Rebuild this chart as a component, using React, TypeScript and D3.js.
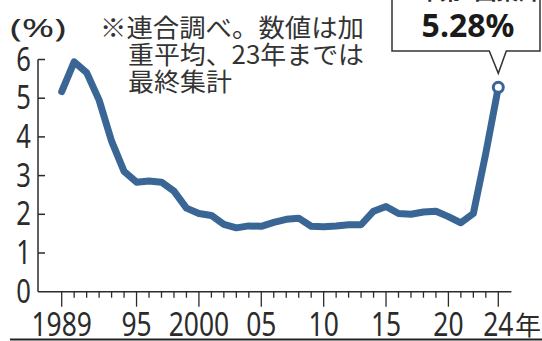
import React from "react";
import * as d3 from "d3";

const years = [
  1989, 1990, 1991, 1992, 1993, 1994, 1995, 1996, 1997, 1998, 1999, 2000,
  2001, 2002, 2003, 2004, 2005, 2006, 2007, 2008, 2009, 2010, 2011, 2012,
  2013, 2014, 2015, 2016, 2017, 2018, 2019, 2020, 2021, 2022, 2023, 2024,
];
const rates = [
  5.17, 5.94, 5.66, 4.95, 3.89, 3.11, 2.83, 2.86, 2.83, 2.6, 2.16, 2.02,
  1.97, 1.74, 1.65, 1.7, 1.69, 1.79, 1.87, 1.9, 1.69, 1.68, 1.7, 1.73,
  1.73, 2.08, 2.2, 2.02, 2.0, 2.06, 2.08, 1.94, 1.78, 2.02, 3.58, 5.28,
];
const majorYears = [1989, 1995, 2000, 2005, 2010, 2015, 2020, 2024];
const majorLabels = ["1989", "95", "2000", "05", "10", "15", "20", "24"];
const yTicks = [0, 1, 2, 3, 4, 5, 6];
const noteLines = ["※連合調べ。数値は加", "重平均、23年までは", "最終集計"];
const calloutTitle = "24年第1回集計";
const calloutValue = "5.28%";

const LINE = "#3a6696";
const INK = "#2b2b2b";
const NUM_FONT = "'Noto Sans', 'DejaVu Sans', sans-serif";
const CJK_FONT = "'Noto Sans CJK JP', 'Noto Sans', sans-serif";

export default function App() {
  const x = d3.scaleLinear().domain([1989, 2024]).range([61.7, 498.3]);
  const y = d3.scaleLinear().domain([0, 6]).range([291.7, 59.5]);
  const axisX = 38;
  const axisEnd = x(2025.05);
  const pts = years.map((yr, i) => [x(yr), y(rates[i])] as [number, number]);
  const line = d3.line().curve(d3.curveLinear)(pts) || "";
  const last = pts[pts.length - 1];

  const boxL = 392;
  const boxR = 540;
  const boxB = 51;
  const tipX = last[0];
  const tipY = last[1] - 14;

  return (
    <svg
      width={542}
      height={341}
      style={{ position: "absolute", left: 0, top: 0, background: "#fff" }}
    >
      <rect x={0} y={0} width={542} height={341} fill="#fff" />
      {/* (%) */}
      <text
        x={10}
        y={37}
        fontFamily={NUM_FONT}
        fontSize={26}
        fill={INK}
        textLength={56}
        lengthAdjust="spacingAndGlyphs"
      >
        (%)
      </text>

      {/* note */}
      {noteLines.map((t, i) => (
        <text
          key={i}
          x={i === 0 ? 100 : 128}
          y={37 + i * 27}
          fontFamily={CJK_FONT}
          fontSize={25}
          fill="#333"
          textLength={i === 0 ? 264 : i === 1 ? 236 : 104}
          lengthAdjust="spacingAndGlyphs"
        >
          {t}
        </text>
      ))}

      {/* y axis */}
      <line x1={axisX} x2={axisX} y1={y(6)} y2={y(0)} stroke={INK} strokeWidth={1.5} />
      {yTicks.map((v) => (
        <g key={v}>
          {v > 0 && (
            <line x1={axisX} x2={axisX + 7} y1={y(v)} y2={y(v)} stroke={INK} strokeWidth={1.5} />
          )}
          <text
            transform={`translate(31,${y(v) + 11}) scale(0.8,1)`}
            textAnchor="end"
            fontFamily={NUM_FONT}
            fontSize={32}
            fill={INK}
          >
            {v}
          </text>
        </g>
      ))}

      {/* x axis */}
      <line x1={axisX} x2={axisEnd} y1={y(0)} y2={y(0)} stroke={INK} strokeWidth={1.5} />
      {years.map((yr) => {
        const major = majorYears.includes(yr);
        return (
          <line
            key={yr}
            x1={x(yr)}
            x2={x(yr)}
            y1={y(0)}
            y2={y(0) + (major ? 15 : 6)}
            stroke={INK}
            strokeWidth={1.3}
          />
        );
      })}
      {majorYears.map((yr, i) => (
        <text
          key={yr}
          transform={`translate(${x(yr)},335.5) scale(0.8,1)`}
          textAnchor="middle"
          fontFamily={NUM_FONT}
          fontSize={33}
          fill={INK}
        >
          {majorLabels[i]}
        </text>
      ))}
      <text x={515} y={335} fontFamily={CJK_FONT} fontSize={26} fill={INK}>
        年
      </text>

      {/* line */}
      <path
        d={line}
        fill="none"
        stroke={LINE}
        strokeWidth={7}
        strokeLinejoin="round"
        strokeLinecap="round"
      />
      <circle cx={last[0]} cy={last[1]} r={5} fill="#fff" stroke={LINE} strokeWidth={3} />

      {/* callout */}
      <path
        d={`M${boxL},-5 L${boxL},${boxB} L${tipX - 9},${boxB} L${tipX},${tipY} L${tipX + 8},${boxB} L${boxR},${boxB} L${boxR},-5`}
        fill="#fff"
        stroke="#333"
        strokeWidth={1.5}
        strokeLinejoin="miter"
      />
      <text
        x={(boxL + boxR) / 2}
        y={-1}
        textAnchor="middle"
        fontFamily={CJK_FONT}
        fontWeight={700}
        fontSize={22}
        fill={INK}
      >
        {calloutTitle}
      </text>
      <text
        x={(boxL + boxR) / 2 + 2}
        y={37}
        textAnchor="middle"
        fontFamily={NUM_FONT}
        fontWeight={700}
        fontSize={32}
        fill="#1a1a1a"
      >
        {calloutValue}
      </text>

      {/* bottom rule */}
      <line x1={10} x2={542} y1={339.5} y2={339.5} stroke="#222" strokeWidth={2} />
    </svg>
  );
}
